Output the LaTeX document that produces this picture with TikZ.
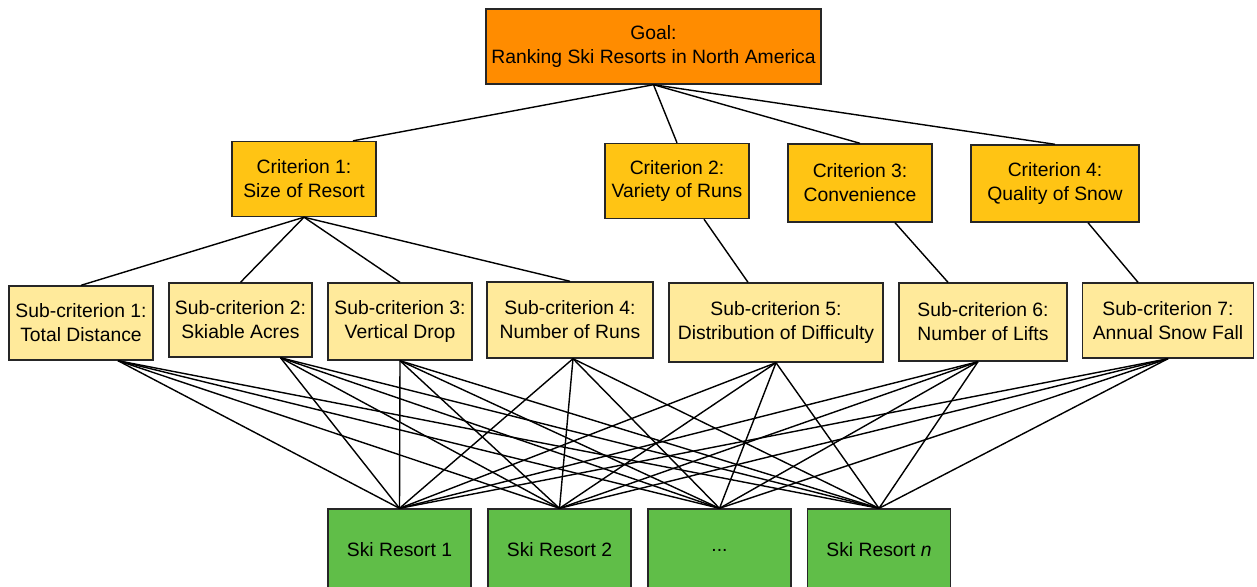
\documentclass[tikz,border=0pt]{standalone}
\usepackage{fontspec}
\setmainfont{Liberation Sans}
\definecolor{goalorange}{RGB}{255,140,0}
\definecolor{critgold}{RGB}{255,196,20}
\definecolor{subyellow}{RGB}{255,234,155}
\definecolor{altgreen}{RGB}{96,190,72}

\begin{document}
\begin{tikzpicture}[x=0.02cm,y=-0.02cm,line width=0.8pt,
  box/.style={draw=black!85,align=center,inner sep=0pt,font=\fontsize{11}{13.6}\selectfont},
  goal/.style={box,fill=goalorange,minimum width=6.7cm,minimum height=1.5cm},
  crit/.style={box,fill=critgold,minimum width=2.88cm,minimum height=1.5cm},
  subc/.style={box,fill=subyellow,minimum height=1.5cm},
  alt/.style={box,fill=altgreen,minimum width=2.86cm,minimum height=1.64cm}]
\useasboundingbox (0,0) rectangle (1257,586);
\clip (0,0) rectangle (1257,586);
% goal and criteria
\node[goal] (G) at (653.5,46.5) {Goal:\\Ranking Ski Resorts in North America};
\node[crit] (C1) at (304,179) {Criterion 1:\\Size of Resort};
\node[crit] (C2) at (677,181) {Criterion 2:\\Variety of Runs};
\node[crit,minimum height=1.56cm] (C3) at (860,183) {Criterion 3:\\Convenience};
\node[crit,minimum width=3.36cm,minimum height=1.54cm] (C4) at (1055,183.5) {Criterion 4:\\Quality of Snow};
% sub-criteria
\node[subc,minimum width=2.88cm,minimum height=1.48cm] (S1) at (81,323) {Sub-criterion 1:\\Total Distance};
\node[subc,minimum width=2.86cm,minimum height=1.48cm] (S2) at (240.5,320) {Sub-criterion 2:\\Skiable Acres};
\node[subc,minimum width=2.88cm,minimum height=1.54cm] (S3) at (400,321.5) {Sub-criterion 3:\\Vertical Drop};
\node[subc,minimum width=3.32cm,minimum height=1.52cm] (S4) at (570,320) {Sub-criterion 4:\\Number of Runs};
\node[subc,minimum width=4.28cm,minimum height=1.58cm] (S5) at (776,322.5) {Sub-criterion 5:\\Distribution of Difficulty};
\node[subc,minimum width=3.36cm,minimum height=1.56cm] (S6) at (983,322) {Sub-criterion 6:\\Number of Lifts};
\node[subc,minimum width=3.42cm] (S7) at (1168,320.5) {Sub-criterion 7:\\Annual Snow Fall};
% alternatives
\node[alt] (R1) at (399.5,550) {Ski Resort 1};
\node[alt] (R2) at (559.5,550) {Ski Resort 2};
\node[alt] (R3) at (719.5,550) {...};
\node[alt] (R4) at (879,550) {Ski Resort \textit{n}};
% links
\draw (G.south) -- ([xshift=0.98cm]C1.north);
\foreach \c in {C2,C3,C4} \draw (G.south) -- (\c.north);
\foreach \s in {S1,S2,S3,S4} \draw (C1.south) -- (\s.north);
\draw ([xshift=0.54cm]C2.south) -- ([xshift=-0.56cm]S5.north);
\draw ([xshift=0.7cm]C3.south) -- ([xshift=-0.7cm]S6.north);
\draw ([xshift=0.66cm]C4.south) -- ([xshift=-0.6cm]S7.north);
\foreach \s/\dx in {S1/0.74,S2/0.8,S3/0,S4/0.06,S5/0,S6/-0.1,S7/0}
  \foreach \r in {R1,R2,R3,R4}
    \draw ([xshift=\dx cm]\s.south) -- (\r.north);
\end{tikzpicture}
\end{document}
